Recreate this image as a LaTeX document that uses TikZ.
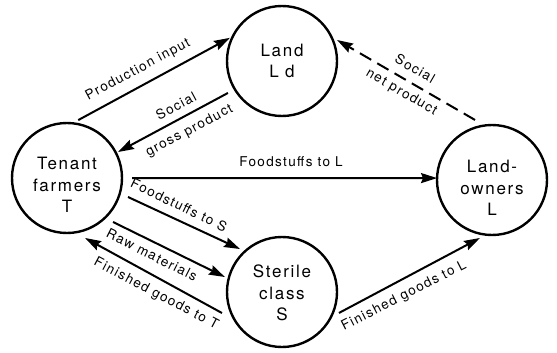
\documentclass[tikz,border=0pt]{standalone}
\usepackage{fontspec}
\setmainfont[LetterSpace=10]{TeX Gyre Heros}
\usetikzlibrary{arrows.meta,calc}
\newcommand{\toppad}[1]{\rule{0pt}{#1}}
\begin{document}
\begin{tikzpicture}[x=1pt,y=-1pt,
  party/.style={circle, draw, line width=2.4pt, minimum size=110pt, inner sep=0pt, align=center, font=\fontsize{17}{21.5}\selectfont},
  flow/.style={line width=2pt, -{Stealth[length=16pt,width=10pt,inset=2pt]}},
  dashflow/.style={flow, dash pattern=on 13pt off 7pt},
  lbl/.style={font=\fontsize{13.5}{15}\selectfont, inner sep=0pt, align=center}]
\useasboundingbox (0,0) rectangle (557,353);
\node[party] (T) at (67,178) {\toppad{26pt}Tenant\\farmers\\T};
\node[party] (Ld) at (282,61) {Land\\L d};
\node[party] (L) at (492,180) {\toppad{28pt}Land-\\owners\\L};
\node[party] (S) at (282,292) {\toppad{15pt}Sterile\\class\\S};
\draw[flow] ($(T)+(79:59pt)$) -- ($(Ld)+(156:57pt)$);
\draw[flow] ($(Ld)+(210.6:62.8pt)$) -- ($(T)+(27:57.2pt)$);
\draw[dashflow] ($(L)+(105.8:62.4pt)$) -- ($(Ld)+(20.9:58.9pt)$);
\draw[flow] ($(T)+(0:65pt)$) -- ($(L)+(178:55pt)$);
\draw[flow] ($(T)+(-17.3:63.9pt)$) -- ($(S)+(134.3:60pt)$);
\draw[flow] ($(T)+(-43.7:63.7pt)$) -- ($(S)+(165.3:59pt)$);
\draw[flow] ($(S)+(199.3:63.6pt)$) -- ($(T)+(-73.3:62.6pt)$);
\draw[flow] ($(S)+(-20.2:60.7pt)$) -- ($(L)+(258.3:59.2pt)$);
\node[lbl, rotate=28.3] (l1) at (138,70) {Production input};
\node[lbl, rotate=28.2] (l2) at (183,119) {Social\\[12pt]gross product};
\node[lbl, rotate=-30] (l3) at (408,81) {Social\\[11pt]net product};
\node[lbl] (l4) at (291,162) {Foodstuffs to L};
\node[lbl, rotate=-26] (l5) at (179,205) {Foodstuffs to S};
\node[lbl, rotate=-27] (l6) at (152,255) {Raw materials};
\node[lbl, rotate=-28] (l7) at (156,294) {Finished goods to T};
\node[lbl, rotate=27] (l8) at (404,296) {Finished goods to L};
\end{tikzpicture}
\end{document}
